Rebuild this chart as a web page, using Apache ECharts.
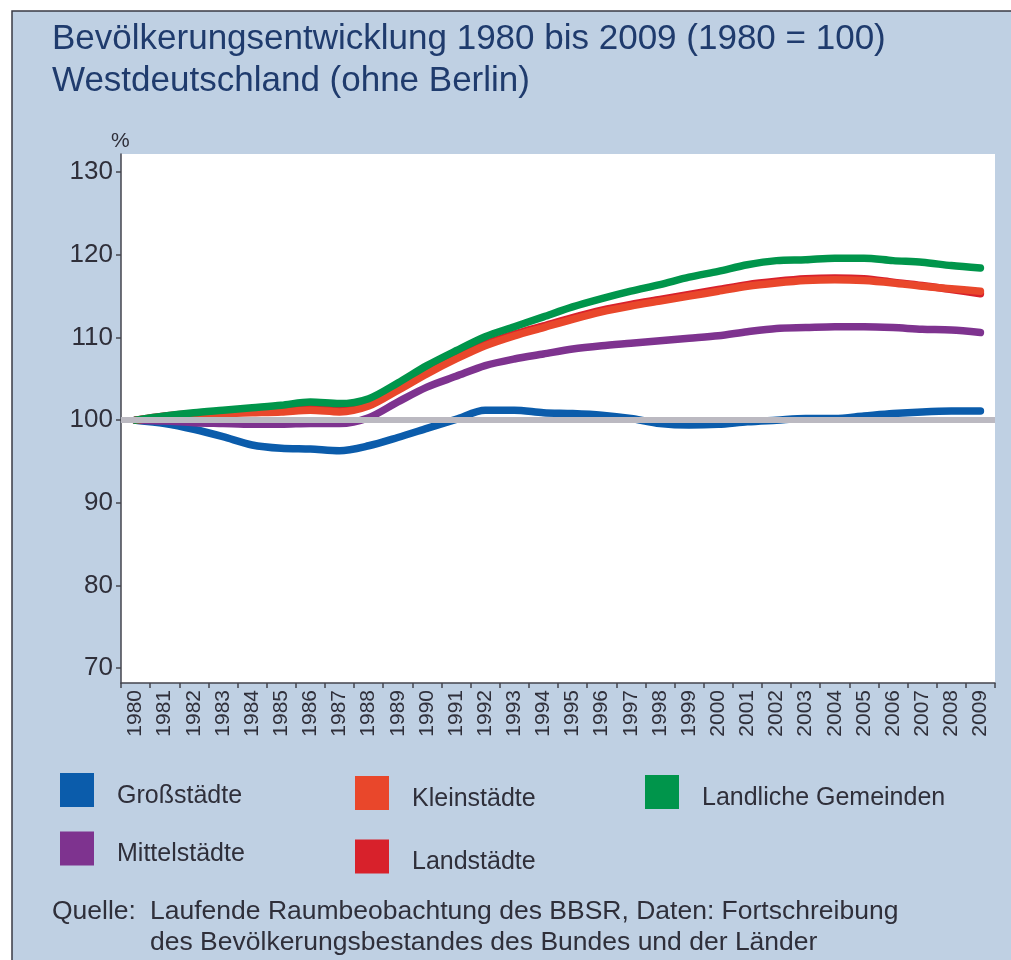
<!DOCTYPE html>
<html>
<head>
<meta charset="utf-8">
<script src="https://cdn.jsdelivr.net/npm/echarts@6/dist/echarts.min.js"></script>
<style>
  html, body { margin: 0; padding: 0; background: #fff; }
  #chart { width: 1011px; height: 960px; }
</style>
</head>
<body>
<div id="chart"></div>
<script>
// Jahre 1980..2009
var years = ['1980', '1981', '1982', '1983', '1984', '1985', '1986', '1987', '1988', '1989',
  '1990', '1991', '1992', '1993', '1994', '1995', '1996', '1997', '1998', '1999',
  '2000', '2001', '2002', '2003', '2004', '2005', '2006', '2007', '2008', '2009']

var yTicks = [70, 80, 90, 100, 110, 120, 130]

var grossstaedte = [100, 99.6, 98.9, 98.0, 97.0, 96.6, 96.5, 96.3, 96.9, 97.9,
  99.0, 100.1, 101.2, 101.2, 100.9, 100.8, 100.6, 100.2, 99.6, 99.4,
  99.5, 99.8, 100.0, 100.2, 100.2, 100.5, 100.8, 101.0, 101.1, 101.1]

var mittelstaedte = [100, 99.9, 99.7, 99.6, 99.5, 99.5, 99.6, 99.6, 100.3, 102.2,
  104.0, 105.3, 106.6, 107.4, 108.0, 108.6, 109.0, 109.3, 109.6, 109.9,
  110.2, 110.7, 111.1, 111.2, 111.3, 111.3, 111.2, 111.0, 110.9, 110.6]

var landstaedte = [100, 100.5, 100.8, 101.0, 101.1, 101.3, 101.5, 101.2, 101.9, 103.8,
  105.8, 107.6, 109.2, 110.4, 111.4, 112.4, 113.3, 114.0, 114.6, 115.2,
  115.8, 116.4, 116.8, 117.1, 117.2, 117.1, 116.7, 116.3, 115.8, 115.3]

var kleinstaedte = [100, 100.4, 100.6, 100.8, 100.9, 101.0, 101.2, 101.0, 101.7, 103.6,
  105.6, 107.4, 109.0, 110.2, 111.2, 112.2, 113.1, 113.8, 114.4, 115.0,
  115.6, 116.2, 116.6, 116.9, 117.0, 116.9, 116.6, 116.2, 115.9, 115.6]

var laendliche = [100, 100.5, 100.9, 101.2, 101.5, 101.8, 102.2, 102.0, 102.6, 104.5,
  106.6, 108.4, 110.1, 111.3, 112.5, 113.7, 114.7, 115.6, 116.4, 117.3,
  118.0, 118.8, 119.3, 119.4, 119.6, 119.6, 119.3, 119.1, 118.7, 118.4]

var font = '"Liberation Sans", Arial, sans-serif'
var textColor = '#2f2f3a'

var chart = echarts.init(document.getElementById('chart'))

function line(name, data, color) {
  return {
    name: name,
    type: 'line',
    data: data,
    smooth: 0.3,
    symbol: 'none',
    lineStyle: { width: 7.5, color: color, cap: 'round', join: 'round' },
    itemStyle: { color: color }
  }
}

var series = [
  line('Großstädte', grossstaedte, '#0b5cab'),
  line('Mittelstädte', mittelstaedte, '#7e338f'),
  line('Landstädte', landstaedte, '#d8212b'),
  line('Kleinstädte', kleinstaedte, '#e9472b'),
  line('Landliche Gemeinden', laendliche, '#00954b')
]
// graue Bezugslinie bei 100
series[4].markLine = {
  silent: true,
  symbol: ['none', 'none'],
  label: { show: false },
  lineStyle: { color: '#bbb9c1', width: 6, type: 'solid' },
  data: [{ yAxis: 100 }]
}

function legend(left, top, names, gap) {
  return {
    left: left,
    top: top,
    padding: 0,
    orient: 'vertical',
    icon: 'rect',
    itemWidth: 34,
    itemHeight: 34,
    itemGap: gap,
    selectedMode: false,
    data: names,
    formatter: '{t|{name}}',
    textStyle: {
      fontFamily: font,
      fontSize: 25,
      color: textColor,
      padding: [0, 0, 0, 18],
      rich: {
        t: { fontFamily: font, fontSize: 25, color: textColor, padding: [12, 0, 0, 0] }
      }
    }
  }
}

chart.setOption({
  backgroundColor: '#fff',
  animation: false,
  graphic: [
    {
      type: 'rect',
      shape: { x: 12, y: 11, width: 1020, height: 970 },
      style: { fill: '#bfd0e3', stroke: '#3a3a44', lineWidth: 1.5 },
      z: -10
    },
    {
      type: 'text', left: 52, top: 22,
      style: { text: 'Bevölkerungsentwicklung 1980 bis 2009 (1980 = 100)', font: '35px ' + font, fill: '#1f3b6d' }
    },
    {
      type: 'text', left: 52, top: 64,
      style: { text: 'Westdeutschland (ohne Berlin)', font: '35px ' + font, fill: '#1f3b6d' }
    },
    {
      type: 'text', left: 111, top: 131,
      style: { text: '%', font: '21px ' + font, fill: textColor }
    },
    {
      type: 'text', left: 52, top: 898,
      style: { text: 'Quelle:', font: '26.5px ' + font, fill: textColor }
    },
    {
      type: 'text', left: 150, top: 898,
      style: { text: 'Laufende Raumbeobachtung des BBSR, Daten: Fortschreibung', font: '26.5px ' + font, fill: textColor }
    },
    {
      type: 'text', left: 150, top: 929,
      style: { text: 'des Bevölkerungsbestandes des Bundes und der Länder', font: '26.5px ' + font, fill: textColor }
    }
  ],
  legend: [
    legend(60, 773, ['Großstädte', 'Mittelstädte'], 23),
    legend(355, 776, ['Kleinstädte', 'Landstädte'], 28),
    legend(645, 775, ['Landliche Gemeinden'], 23)
  ],
  grid: {
    left: 121,
    right: 16,
    top: 154,
    bottom: 277,
    show: true,
    backgroundColor: '#fff',
    borderWidth: 0
  },
  xAxis: {
    type: 'category',
    data: years,
    boundaryGap: true,
    axisLine: { lineStyle: { color: '#44444e', width: 1.5 } },
    axisTick: { show: true, length: 5, interval: 0, lineStyle: { color: '#44444e', width: 1.5 } },
    axisLabel: {
      interval: 0,
      rotate: 90,
      margin: 7,
      fontFamily: font,
      fontSize: 21,
      color: textColor
    }
  },
  yAxis: {
    type: 'value',
    min: 68.2,
    max: 132.2,
    splitLine: { show: false },
    axisLine: { show: true, lineStyle: { color: '#44444e', width: 1.5 } },
    axisTick: { show: true, length: 5, customValues: yTicks, lineStyle: { color: '#44444e', width: 1.5 } },
    axisLabel: {
      customValues: yTicks,
      margin: 8,
      fontFamily: font,
      fontSize: 26,
      color: textColor
    }
  },
  series: series
})
</script>
</body>
</html>
